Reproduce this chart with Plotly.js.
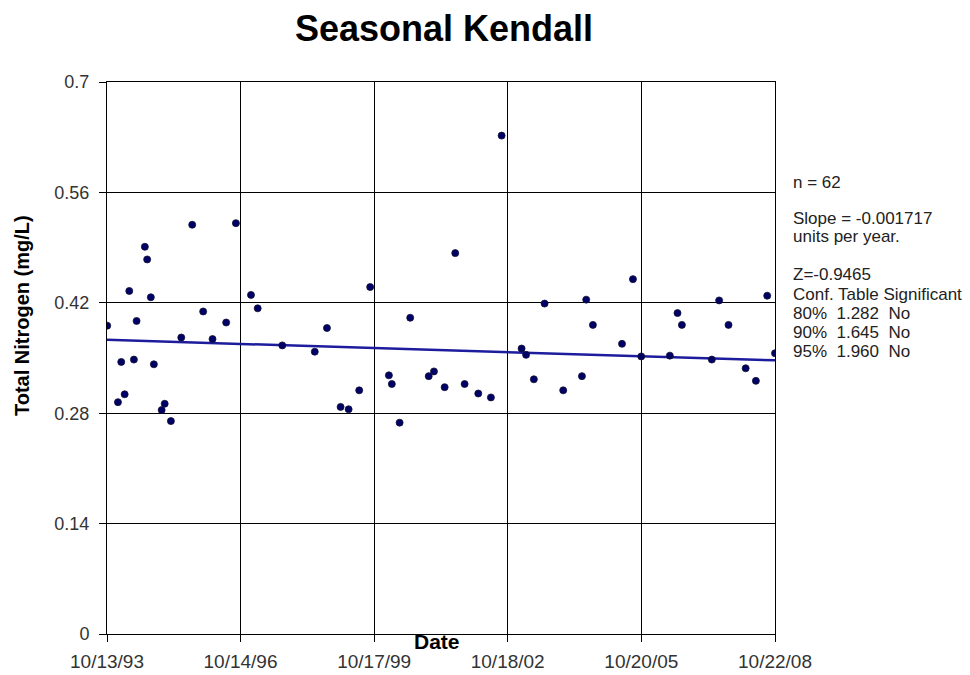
<!DOCTYPE html>
<html>
<head>
<meta charset="utf-8">
<script src="https://cdn.plot.ly/plotly-3.0.1.min.js"></script>
<style>html,body{margin:0;padding:0;background:#fff;}#chart{width:970px;height:675px;}</style>
</head>
<body>
<div id="chart"></div>
<script>
// Sample dates and Total Nitrogen values (mg/L)
const sampleDates = [
  '1993-10-15','1994-01-11','1994-02-07','1994-03-07','1994-04-14','1994-05-22','1994-06-13','1994-08-20',
  '1994-09-08','1994-10-08','1994-11-02','1995-01-05','1995-01-30','1995-03-22','1995-06-15','1995-09-13',
  '1995-12-12','1996-02-27','1996-06-18','1996-09-06','1997-01-08','1997-03-04','1997-09-22','1998-06-16',
  '1998-09-24','1999-01-14','1999-03-21','1999-06-16','1999-09-14','2000-02-15','2000-03-10','2000-05-13',
  '2000-08-08','2001-01-07','2001-02-19','2001-05-18','2001-08-13','2001-10-29','2002-02-18','2002-06-02',
  '2002-08-29','2003-02-09','2003-03-18','2003-05-21','2003-08-17','2004-01-17','2004-06-19','2004-07-24',
  '2004-09-17','2005-05-14','2005-08-12','2005-10-19','2006-06-11','2006-08-13','2006-09-18','2007-05-22',
  '2007-07-21','2007-10-06','2008-02-24','2008-05-18','2008-08-19','2008-10-22'
];
const nitrogenValues = [
  0.391,0.294,0.345,0.304,0.435,0.348,0.397,0.491,
  0.475,0.427,0.342,0.284,0.292,0.270,0.376,0.519,
  0.409,0.374,0.395,0.521,0.430,0.413,0.366,0.358,
  0.388,0.288,0.285,0.309,0.440,0.328,0.317,0.268,
  0.401,0.327,0.333,0.313,0.483,0.317,0.305,0.300,
  0.632,0.362,0.354,0.323,0.419,0.309,0.327,0.424,
  0.392,0.368,0.450,0.352,0.353,0.407,0.392,0.348,
  0.423,0.392,0.337,0.321,0.429,0.356
];
// Seasonal Kendall trend line end points
const trendDates = ['1993-10-13','2008-10-22'];
const trendValues = [0.373, 0.347];
// Axis ticks
const xTickVals = ['1993-10-13','1996-10-14','1999-10-17','2002-10-18','2005-10-20','2008-10-22'];
const xTickText = ['10/13/93','10/14/96','10/17/99','10/18/02','10/20/05','10/22/08'];
const yTickVals = [0, 0.14, 0.28, 0.42, 0.56, 0.7];
const yTickText = ['0','0.14','0.28','0.42','0.56','0.7'];
// Statistics text
const statsLines = [
  ['n = 62', 182.5],
  ['Slope = -0.001717', 218],
  ['units per year.', 236.5],
  ['Z=-0.9465', 274.5],
  ['Conf. Table Significant', 294],
  ['80%  1.282  No', 313],
  ['90%  1.645  No', 332],
  ['95%  1.960  No', 351]
];

const FONT = 'Liberation Sans, Arial, sans-serif';
const L = 107, R = 775, T = 82, B = 634, W = 970, H = 675;
const px2x = p => (p - L) / (R - L);
const px2y = p => (B - p) / (B - T);

const traces = [
  {
    x: trendDates, y: trendValues, type: 'scatter', mode: 'lines',
    line: {color: '#1c1c9c', width: 2.5}, hoverinfo: 'skip', showlegend: false
  },
  {
    x: sampleDates, y: nitrogenValues, type: 'scatter', mode: 'markers',
    marker: {color: '#000066', size: 7, line: {color: '#111133', width: 0.8}},
    showlegend: false
  }
];

const annotations = statsLines.map(([t, py]) => ({
  text: t, xref: 'paper', yref: 'paper', x: px2x(792), y: px2y(py),
  xanchor: 'left', yanchor: 'middle', showarrow: false, borderpad: 0,
  font: {family: FONT, size: 17, color: '#222'}
}));
annotations.push({
  text: '<b>Date</b>', xref: 'paper', yref: 'paper', x: px2x(437), y: px2y(641),
  xanchor: 'center', yanchor: 'middle', showarrow: false,
  font: {family: FONT, size: 21, color: '#000'}
});
annotations.push({
  text: '<b>Total Nitrogen (mg/L)</b>', xref: 'paper', yref: 'paper', x: px2x(22), y: px2y(316),
  xanchor: 'center', yanchor: 'middle', textangle: -90, showarrow: false,
  font: {family: FONT, size: 20, color: '#000'}
});

const layout = {
  width: W, height: H,
  margin: {l: L, r: W - R, t: T, b: H - B, pad: 0},
  paper_bgcolor: '#fff', plot_bgcolor: '#fff',
  title: {
    text: '<b>Seasonal Kendall</b>', x: 444 / W, xref: 'container', xanchor: 'center',
    y: 1 - 28 / H, yref: 'container', yanchor: 'middle',
    font: {family: FONT, size: 36, color: '#000'}
  },
  xaxis: {
    type: 'date', range: ['1993-10-13', '2008-10-22'],
    tickmode: 'array', tickvals: xTickVals, ticktext: xTickText,
    showgrid: true, gridcolor: '#000', gridwidth: 1,
    showline: true, linecolor: '#000', linewidth: 1, mirror: true,
    ticks: 'outside', ticklen: 7, tickcolor: '#000', tickwidth: 1,
    ticklabelstandoff: 3,
    tickfont: {family: FONT, size: 19, color: '#333'},
    zeroline: false, fixedrange: true
  },
  yaxis: {
    range: [0, 0.7],
    tickmode: 'array', tickvals: yTickVals, ticktext: yTickText,
    showgrid: true, gridcolor: '#000', gridwidth: 1,
    showline: true, linecolor: '#000', linewidth: 1, mirror: true,
    ticks: 'outside', ticklen: 7, tickcolor: '#000', tickwidth: 1,
    ticklabelstandoff: 6,
    tickfont: {family: FONT, size: 18, color: '#333'},
    zeroline: false, fixedrange: true
  },
  annotations: annotations,
  showlegend: false
};

Plotly.newPlot('chart', traces, layout, {displayModeBar: false, staticPlot: true});
</script>
</body>
</html>
